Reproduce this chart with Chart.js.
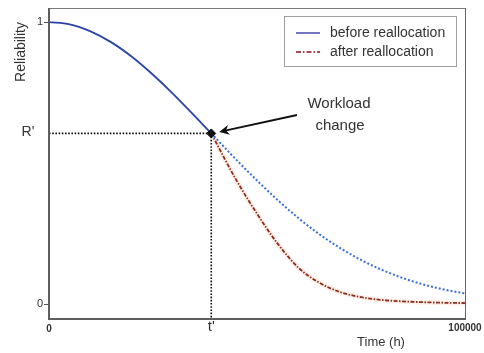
<!DOCTYPE html>
<html>
<head>
<meta charset="utf-8">
<script src="https://cdn.jsdelivr.net/npm/chart.js@4.4.1/dist/chart.umd.min.js"></script>
<style>
  html, body { margin: 0; padding: 0; background: #fff; }
  #wrap { width: 484px; height: 353px; }
</style>
</head>
<body>
<div id="wrap"><canvas id="relChart" width="484" height="353"></canvas></div>
<script>
// values
const tPrime = 39000;
const rPrime = 0.605;

const timesEarly = [0, 5000, 10000, 15000, 20000, 25000, 30000, 35000, 39000];
const relEarly = [1, 0.992, 0.967, 0.928, 0.876, 0.813, 0.743, 0.667, 0.605];

const timesLate = [39000, 45000, 50000, 55000, 60000, 65000, 70000, 75000, 80000, 85000, 90000, 95000, 100000];
const relNoChange = [0.605, 0.512, 0.438, 0.368, 0.304, 0.247, 0.198, 0.156, 0.121, 0.092, 0.069, 0.051, 0.037];
const relRealloc = [0.605, 0.44, 0.32, 0.213, 0.128, 0.075, 0.042, 0.024, 0.014, 0.009, 0.006, 0.004, 0.003];

const yTicks = [0, rPrime, 1];
const yTickLabels = ['0', "R'", '1'];
const xTicks = [0, tPrime, 100000];
const xTickLabels = ['0', "t'", '100000'];

const legendLabels = ['before reallocation', 'after reallocation'];

const pts = (xs, ys) => xs.map((x, i) => ({ x: x, y: ys[i] }));

// frame, labels, legend and the annotation
const decorations = {
    id: 'decorations',
    afterDraw(chart) {
        const ctx = chart.ctx;
        const a = chart.chartArea;
        const xs = chart.scales.x, ys = chart.scales.y;
        ctx.save();

        // frame
        ctx.lineWidth = 1;
        ctx.strokeStyle = '#7a7a7a';
        ctx.beginPath(); ctx.moveTo(a.left, a.top + 0.5); ctx.lineTo(a.right, a.top + 0.5); ctx.stroke();
        ctx.strokeStyle = '#8a5a4a';
        ctx.beginPath(); ctx.moveTo(a.right + 0.5, a.top); ctx.lineTo(a.right + 0.5, a.bottom); ctx.stroke();
        ctx.lineWidth = 2;
        ctx.strokeStyle = '#5e5e5e';
        ctx.beginPath(); ctx.moveTo(a.left, a.top); ctx.lineTo(a.left, a.bottom + 1); ctx.lineTo(a.right + 1, a.bottom + 1); ctx.stroke();

        // y tick marks
        ctx.lineWidth = 1;
        ctx.strokeStyle = '#555';
        [0, 1].forEach(v => {
            const py = Math.round(ys.getPixelForValue(v)) + 0.5;
            ctx.beginPath(); ctx.moveTo(a.left - 5, py); ctx.lineTo(a.left, py); ctx.stroke();
        });

        // tick labels
        ctx.fillStyle = '#333';
        ctx.textBaseline = 'middle';
        ctx.textAlign = 'center';
        yTicks.forEach((v, i) => {
            const py = ys.getPixelForValue(v);
            if (yTickLabels[i] === "R'") {
                ctx.font = '14px "Liberation Sans", Arial, sans-serif';
                ctx.fillText(yTickLabels[i], 28, py - 1);
            } else {
                ctx.font = '11px "Liberation Sans", Arial, sans-serif';
                ctx.fillText(yTickLabels[i], 40, py);
            }
        });
        xTicks.forEach((v, i) => {
            const px = xs.getPixelForValue(v);
            if (xTickLabels[i] === "t'") {
                ctx.font = '15px "Liberation Sans", Arial, sans-serif';
                ctx.fillText(xTickLabels[i], px, 327);
            } else if (xTickLabels[i] === '100000') {
                ctx.font = 'bold 10px "Liberation Sans", Arial, sans-serif';
                ctx.fillText(xTickLabels[i], px, 328);
            } else {
                ctx.font = 'bold 10px "Liberation Sans", Arial, sans-serif';
                ctx.fillText(xTickLabels[i], px, 329);
            }
        });

        // axis titles
        ctx.font = '13px "Liberation Sans", Arial, sans-serif';
        ctx.fillText('Time (h)', 381, 342);
        ctx.save();
        ctx.translate(21, 52);
        ctx.rotate(-Math.PI / 2);
        ctx.font = '14px "Liberation Sans", Arial, sans-serif';
        ctx.fillText('Reliability', 0, 0);
        ctx.restore();

        // legend
        ctx.fillStyle = '#fff';
        ctx.fillRect(284, 16, 173, 51);
        ctx.lineWidth = 1;
        ctx.strokeStyle = '#a0a0a0';
        ctx.strokeRect(284.5, 16.5, 172, 50);
        ctx.font = '14px "Liberation Sans", Arial, sans-serif';
        ctx.textAlign = 'left';
        ctx.fillStyle = '#333';
        const rows = [{ y: 33, color: '#2a2aa0', dash: [] }, { y: 52, color: '#8b1010', dash: [5, 2, 1.5, 2] }];
        rows.forEach((r, i) => {
            ctx.strokeStyle = r.color;
            ctx.lineWidth = 1.3;
            ctx.setLineDash(r.dash);
            ctx.beginPath(); ctx.moveTo(296, r.y); ctx.lineTo(320, r.y); ctx.stroke();
            ctx.setLineDash([]);
            ctx.fillText(legendLabels[i], 330, r.y);
        });

        // annotation
        ctx.textAlign = 'center';
        ctx.font = '15px "Liberation Sans", Arial, sans-serif';
        ctx.fillText('Workload', 339, 104);
        ctx.fillText('change', 340, 126);
        const hx = xs.getPixelForValue(tPrime) + 8;
        const hy = ys.getPixelForValue(rPrime) - 1.5;
        const tx = 297, ty = 115;
        const ang = Math.atan2(hy - ty, hx - tx);
        ctx.strokeStyle = '#111';
        ctx.lineWidth = 2;
        ctx.beginPath(); ctx.moveTo(tx, ty); ctx.lineTo(hx - 6 * Math.cos(ang), hy - 6 * Math.sin(ang)); ctx.stroke();
        ctx.fillStyle = '#111';
        ctx.beginPath();
        ctx.moveTo(hx, hy);
        ctx.lineTo(hx - 10 * Math.cos(ang) + 5 * Math.sin(ang), hy - 10 * Math.sin(ang) - 5 * Math.cos(ang));
        ctx.lineTo(hx - 7 * Math.cos(ang), hy - 7 * Math.sin(ang));
        ctx.lineTo(hx - 10 * Math.cos(ang) - 5 * Math.sin(ang), hy - 10 * Math.sin(ang) + 5 * Math.cos(ang));
        ctx.closePath();
        ctx.fill();

        ctx.restore();
    }
};

new Chart(document.getElementById('relChart'), {
    type: 'line',
    data: {
        datasets: [
            {
                label: 'marker',
                data: [{ x: tPrime, y: rPrime }],
                showLine: false,
                pointStyle: 'rectRot',
                pointRadius: 4.5,
                backgroundColor: '#111',
                borderColor: '#111',
                order: 0
            },
            {
                label: 'guide h',
                data: [{ x: 0, y: rPrime }, { x: tPrime, y: rPrime }],
                borderColor: '#111',
                borderWidth: 1.6,
                borderDash: [1.6, 1.6],
                pointRadius: 0,
                order: 1
            },
            {
                label: 'guide v',
                data: [{ x: tPrime, y: rPrime }, { x: tPrime, y: -0.05 }],
                borderColor: '#111',
                borderWidth: 1.6,
                borderDash: [1.6, 1.6],
                pointRadius: 0,
                order: 1
            },
            {
                label: legendLabels[0],
                data: pts(timesEarly, relEarly),
                borderColor: '#2b44a6',
                borderWidth: 1.8,
                pointRadius: 0,
                cubicInterpolationMode: 'monotone',
                order: 2
            },
            {
                label: 'before (continued)',
                data: pts(timesLate, relNoChange),
                borderColor: '#3a6ed8',
                borderWidth: 2,
                borderDash: [2, 2],
                pointRadius: 0,
                cubicInterpolationMode: 'monotone',
                order: 2
            },
            {
                label: legendLabels[1],
                data: pts(timesLate, relRealloc),
                borderColor: '#8c2d1c',
                borderWidth: 1.8,
                borderDash: [4, 1.5, 1.5, 1.5],
                pointRadius: 0,
                cubicInterpolationMode: 'monotone',
                order: 3
            },
            {
                label: 'halo',
                data: pts(timesLate, relRealloc),
                borderColor: 'rgba(235, 140, 100, 0.14)',
                borderWidth: 5,
                pointRadius: 0,
                cubicInterpolationMode: 'monotone',
                order: 5
            }
        ]
    },
    options: {
        responsive: false,
        animation: false,
        layout: { padding: { left: 49, top: 8, right: 19, bottom: 35 } },
        scales: {
            x: { type: 'linear', min: 0, max: 100000, display: false },
            y: { type: 'linear', min: -0.05, max: 1.05, display: false }
        },
        plugins: {
            legend: { display: false },
            tooltip: { enabled: false }
        }
    },
    plugins: [decorations]
});
</script>
</body>
</html>
